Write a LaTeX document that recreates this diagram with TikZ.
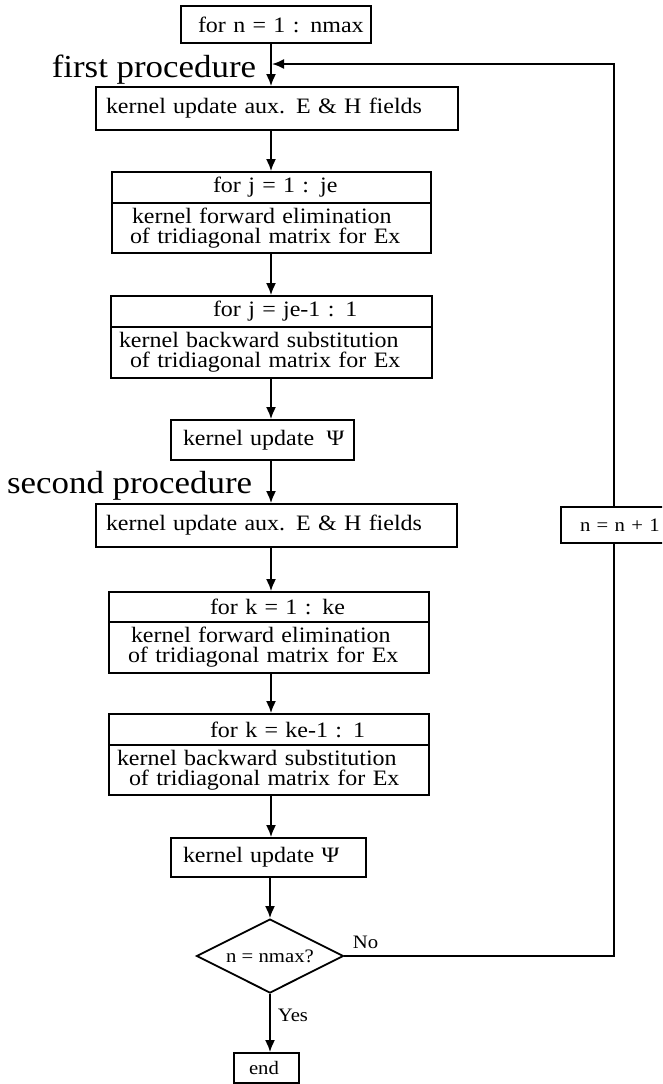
\documentclass[tikz,border=0pt]{standalone}
\usepackage{fontspec}
\setmainfont{Liberation Serif}[FakeStretch=1.09]
\usetikzlibrary{arrows.meta,shapes.geometric}
\begin{document}
\begin{tikzpicture}[x=1pt,y=-1pt,line width=1.8pt,
  box/.style={draw,rectangle,inner xsep=0pt,inner ysep=0pt,align=left,
    font=\fontsize{22pt}{20pt}\selectfont},
  smallbox/.style={box,font=\fontsize{19pt}{20pt}\selectfont},
  decision/.style={draw,diamond,shape aspect=2,inner sep=0pt,
    minimum width=147pt,minimum height=74pt,font=\fontsize{19pt}{20pt}\selectfont},
  arr/.style={-{Latex[length=12pt,width=10pt]}},
  proclabel/.style={inner sep=0pt,anchor=base east,font=\fontsize{32pt}{34pt}\selectfont},
  answer/.style={inner sep=0pt,anchor=base west,font=\fontsize{19pt}{20pt}\selectfont}]
\useasboundingbox (0,0) rectangle (662,1084);
\clip (0,0) rectangle (662,1084);
\coordinate (ax) at (271,0);
% boxes
\node[box,text width=190pt,minimum height=37pt] (top) at (276,24.5) {\hspace*{17pt}for n = 1 : nmax};
\node[box,text width=362pt,minimum height=43pt] (aux1) at (277,108.5) {\hspace*{10pt}kernel update aux. E \& H fields};
\node[box,text width=319pt,minimum height=31pt] (j1t) at (271.5,187.5) {\hspace*{101pt}for j = 1 : je};
\node[box,text width=319pt,minimum height=50pt] (j1b) at (271.5,228) {\hspace*{20pt}kernel forward elimination\\\hspace*{18pt}of tridiagonal matrix for Ex};
\node[box,text width=321pt,minimum height=31pt] (j2t) at (271.5,311.5) {\hspace*{102pt}for j = je-1 : 1};
\node[box,text width=321pt,minimum height=51pt] (j2b) at (271.5,352.5) {\hspace*{8pt}kernel backward substitution\\\hspace*{19pt}of tridiagonal matrix for Ex};
\node[box,text width=183pt,minimum height=40pt] (psi1) at (262.5,440) {\hspace*{12pt}kernel update\hspace{5pt} Ψ};
\node[box,text width=361pt,minimum height=43pt] (aux2) at (276.5,525.5) {\hspace*{10pt}kernel update aux. E \& H fields};
\node[box,text width=320pt,minimum height=30pt] (k1t) at (269,607) {\hspace*{101pt}for k = 1 : ke};
\node[box,text width=320pt,minimum height=51pt] (k1b) at (269,647.5) {\hspace*{22pt}kernel forward elimination\\\hspace*{19pt}of tridiagonal matrix for Ex};
\node[box,text width=320pt,minimum height=31pt] (k2t) at (269,729.5) {\hspace*{101pt}for k = ke-1 : 1};
\node[box,text width=320pt,minimum height=50pt] (k2b) at (269,770) {\hspace*{8pt}kernel backward substitution\\\hspace*{20pt}of tridiagonal matrix for Ex};
\node[box,text width=195pt,minimum height=39pt] (psi2) at (268.5,857.5) {\hspace*{12pt}kernel update Ψ};
\node[decision] (dia) at (270,956) {n = nmax?};
\node[smallbox,text width=65pt,minimum height=30pt] (end) at (266.5,1068) {\hspace*{15pt}end};
\node[smallbox,text width=106pt,minimum height=36pt] (inc) at (614,525) {\hspace*{19pt}n = n + 1};
% labels
\node[proclabel] (p1) at (257,77) {first procedure};
\node[proclabel] (p2) at (253,493) {second procedure};
\node[answer] (no) at (352,948) {No};
\node[answer] (yes) at (277,1021) {Yes};
% connectors
\draw[arr] (top.south -| ax) -- (aux1.north -| ax);
\draw[arr] (aux1.south -| ax) -- (j1t.north -| ax);
\draw[arr] (j1b.south -| ax) -- (j2t.north -| ax);
\draw[arr] (j2b.south -| ax) -- (psi1.north -| ax);
\draw[arr] (psi1.south -| ax) -- (aux2.north -| ax);
\draw[arr] (aux2.south -| ax) -- (k1t.north -| ax);
\draw[arr] (k1b.south -| ax) -- (k2t.north -| ax);
\draw[arr] (k2b.south -| ax) -- (psi2.north -| ax);
\draw[arr] (psi2.south -| dia.north) -- (dia.north);
\draw[arr] (dia.south) -- (dia.south |- end.north);
\coordinate (ret) at (272,64);
\draw (dia.east) -| (inc.south);
\draw[arr] (inc.north) |- (ret);
\end{tikzpicture}
\end{document}
